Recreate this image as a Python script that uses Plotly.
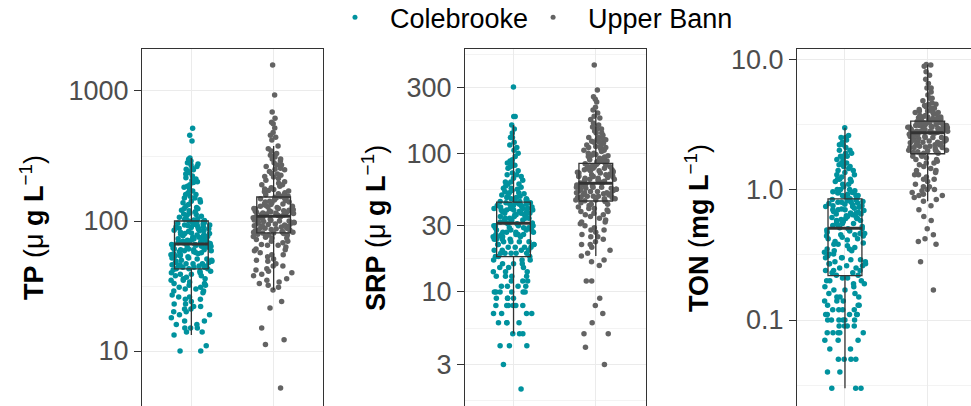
import plotly.graph_objects as go

sites = ["Colebrooke", "Upper Bann"]
site_colors = ["#00929E", "#636363"]

# ---------------- TP (ug/L) ----------------
tp_colebrooke = [
    518, 457, 412, 305, 298, 290, 285, 280, 275, 270, 262, 255, 248, 240, 230, 222, 215, 205, 198, 190,
    182, 175, 170, 165, 160, 155, 150, 146, 142, 138, 134, 130, 127, 124, 121, 118, 115, 113, 111, 109,
    107, 105, 104, 102, 101, 100,
    99, 98, 97, 96, 95, 94, 93, 92, 91, 90, 89, 88, 87, 86, 85, 84, 83, 82, 81, 80,
    79, 78, 77, 77, 76, 75, 74, 73, 73, 72, 71, 71, 70, 70, 69, 69, 68, 68, 67, 67,
    66, 66, 65, 65, 64, 64, 63, 62, 62, 61, 60, 60, 59, 58, 58, 57, 56, 56, 55, 54,
    54, 53, 52, 52, 51, 50, 50, 49, 48, 48, 47, 47, 46, 46, 45, 45, 44, 44, 43, 43,
    42, 41, 41, 40, 39, 39, 38, 37, 36, 36, 35, 34, 33, 33, 32, 31, 30, 30, 29, 28,
    27, 26, 25, 25, 24, 23, 22, 22, 21, 20, 20, 19, 18, 17, 16, 16, 15, 15, 14, 14,
    13.3, 11, 10, 10,
    250, 235, 210, 185, 160, 140, 125, 112, 103, 97, 93, 88, 84, 80, 78, 75, 72, 70, 68, 66,
    64, 61, 59, 57, 55, 53, 51, 49, 47, 45, 43, 40, 38, 35, 32, 29, 26, 23, 21, 19,
    17, 15, 280, 200, 150, 120, 90, 60, 44, 31,
]
tp_upper_bann = [
    1585, 930, 690, 617, 575, 560, 520, 480, 457, 440, 420,
    378, 360, 345, 330, 320, 310, 300, 290, 280, 270, 262, 255, 248, 240, 232, 225, 218, 212, 206, 200,
    195, 190, 185, 180, 176, 172, 168, 165, 162, 159, 156, 154,
    152, 150, 148, 146, 144, 142, 140, 138, 136, 134, 132, 130, 128, 127, 126, 125, 124, 122, 121, 120,
    119, 118, 117, 116, 115, 114, 113, 112, 111, 110,
    108, 107, 106, 105, 104, 103, 102, 101, 100, 99, 98, 97, 96, 95, 94, 93, 92, 91, 90, 89,
    88, 87, 86, 85, 84, 83, 82, 82, 81, 81,
    80, 79, 78, 77, 76, 75, 74, 72, 70, 68, 66, 65, 63, 61, 59, 57, 55, 53, 51, 49,
    47, 45, 43, 41, 40, 38, 36, 35, 33, 31, 29.5, 24, 21.4, 15, 12.2, 11.2, 5.2,
    300, 250, 220, 190, 170, 160, 150, 140, 135, 130, 125, 120, 115, 112, 108, 104, 100, 96, 92, 88,
    85, 82, 78, 74, 70, 65, 60, 55, 50, 45, 42, 39, 34, 32, 270, 230, 175, 145, 118, 98,
]
tp_q1 = [42.8, 81.0]
tp_median = [66.6, 109.0]
tp_q3 = [100.0, 153.0]
tp_lower = [13.3, 29.5]
tp_upper = [305.0, 378.0]

# ---------------- SRP (ug/L) ----------------
srp_colebrooke = [
    300, 184, 184, 160, 150, 140, 130, 120, 115, 110, 100, 95, 90, 88, 85, 82, 80, 78, 75, 72,
    70, 68, 66, 64, 62, 60, 58, 57, 56, 55, 54, 53, 52, 51, 50, 49, 48, 48, 47, 47, 46, 46, 45, 45,
    44, 44, 43, 43, 42, 42, 41, 41, 40, 40, 39, 39, 38, 38, 37, 37, 36, 36, 35, 35,
    34, 34, 33, 33, 32, 32, 32, 31.5, 44, 40, 38, 36, 34, 42, 39, 37,
    31, 31, 30, 30, 29, 29, 28, 28, 27, 27, 26, 26, 25, 25, 24, 24, 23, 23, 22, 22,
    21, 21, 20, 20, 19, 19, 18, 18, 30, 28, 26, 24, 22, 20, 25, 27, 23, 29, 21, 19,
    17, 17, 16, 16, 15, 15, 14, 14, 13, 13, 12, 12, 11, 11, 11, 10, 10, 10, 10, 9,
    9, 9, 8, 8, 8, 8, 7, 7, 7, 6, 6, 6, 5, 5, 5, 4.1, 4.1, 4.1, 3, 2,
    130, 105, 85, 70, 62, 56, 50, 46, 43, 41, 39, 37, 35, 33, 31, 30, 29, 28, 27, 26,
    25, 24, 23, 22, 21, 20, 19, 18, 17, 16, 15, 14, 13, 12, 11, 10, 9, 8, 7, 6,
    60, 52, 45, 40, 34, 26, 19, 13, 10, 8,
]
srp_upper_bann = [
    433, 286, 256, 245, 234, 215,
    205, 195, 185, 175, 165, 155, 150, 145, 140, 135, 130, 128, 125, 122, 120, 118, 115, 112, 110, 108,
    105, 103, 100, 98, 96, 94, 92, 90, 88, 86, 85,
    84, 83, 82, 81, 80, 79, 78, 77, 76, 75, 74, 73, 72, 71, 70, 69, 68, 67, 66, 65,
    64, 63, 62, 61, 80, 75, 70, 65, 72, 68,
    60, 59, 58, 57, 56, 55, 54, 53, 52, 51, 50, 49, 48, 47, 46, 45.5, 58, 55, 52, 49,
    47, 56, 53, 50, 48, 46, 59, 54, 51, 57,
    45, 44, 43, 42, 41, 40, 39, 38, 37, 36, 35, 34, 33, 32, 31, 30, 29, 28, 27, 26,
    25, 24, 23, 22, 21, 20, 19, 18.2, 17, 16.5, 15.5, 12, 12, 9, 8, 7, 6, 5, 5, 4, 3,
    180, 160, 140, 130, 120, 112, 105, 100, 95, 90, 87, 84, 80, 76, 72, 68, 64, 61, 58, 55,
    52, 49, 46, 43, 40, 36, 32, 28, 25, 22, 150, 125, 110, 97, 88, 78, 66, 57, 48, 38,
]
srp_q1 = [18.0, 45.3]
srp_median = [31.3, 60.8]
srp_q3 = [44.4, 84.7]
srp_lower = [5.03, 18.2]
srp_upper = [160.0, 205.0]

# ---------------- TON (mg/L) ----------------
ton_colebrooke = [
    2.97, 2.6, 2.5, 2.4, 2.3, 2.2, 2.1, 2.0, 1.9, 1.8, 1.7, 1.6, 1.55, 1.5, 1.45, 1.4, 1.35, 1.3, 1.25, 1.2,
    1.15, 1.1, 1.05, 1.0, 0.98, 0.96, 0.94, 0.92, 0.9, 0.88, 0.86, 2.0, 1.8, 1.6, 1.4, 1.2, 1.1, 1.0, 0.95, 0.9,
    0.84, 0.82, 0.8, 0.78, 0.76, 0.74, 0.72, 0.7, 0.68, 0.66, 0.64, 0.62, 0.6, 0.58, 0.56, 0.54, 0.52, 0.51, 0.8, 0.75,
    0.7, 0.65, 0.6, 0.55, 0.83, 0.77, 0.71, 0.67, 0.63, 0.57, 0.53, 0.79, 0.73, 0.69, 0.61, 0.59, 0.81, 0.74, 0.66, 0.58,
    0.5, 0.48, 0.46, 0.44, 0.42, 0.4, 0.38, 0.36, 0.34, 0.32, 0.3, 0.29, 0.28, 0.27, 0.26, 0.25, 0.24, 0.23, 0.22, 0.49,
    0.45, 0.41, 0.37, 0.33, 0.31, 0.27, 0.25, 0.23, 0.47, 0.43, 0.39, 0.35, 0.3, 0.26, 0.24, 0.22, 0.45, 0.35, 0.28, 0.32,
    0.21, 0.2, 0.19, 0.18, 0.17, 0.16, 0.15, 0.14, 0.13, 0.12, 0.11, 0.11, 0.1, 0.1, 0.1, 0.09, 0.09, 0.09, 0.08, 0.08,
    0.08, 0.07, 0.07, 0.06, 0.05, 0.05, 0.05, 0.04, 0.03, 0.03, 0.2, 0.18, 0.16, 0.15, 0.14, 0.13, 0.12, 0.12, 0.11, 0.1,
    2.5, 2.2, 1.9, 1.7, 1.5, 1.3, 1.15, 1.0, 0.9, 0.85, 0.8, 0.75, 0.7, 0.65, 0.6, 0.55, 0.5, 0.46, 0.42, 0.38,
    0.34, 0.3, 0.27, 0.24, 0.21, 0.19, 0.17, 0.15, 0.13, 0.12, 0.11, 0.1, 0.09, 0.08, 0.07, 0.06, 0.05, 0.04, 0.03, 0.1,
    1.8, 1.2, 0.95, 0.62, 0.44, 0.29, 0.2, 0.14, 0.11, 0.08,
]
ton_upper_bann = [
    9.07, 9.0, 8.8, 8.0, 7.5, 7.0, 6.5, 6.0, 5.6, 5.3, 5.0, 4.8, 4.6, 4.4, 4.2, 4.1, 4.0, 3.9, 3.8, 3.7,
    3.6, 3.55, 3.5, 3.45, 3.4, 3.35, 4.5, 4.3, 3.9, 3.7, 3.5, 4.0, 3.6,
    3.3, 3.25, 3.2, 3.15, 3.1, 3.05, 3.0, 2.95, 2.9, 2.85, 2.8, 2.75, 3.3, 3.2, 3.1, 3.0, 2.9, 2.8, 3.25, 3.05,
    2.85, 2.78, 3.15, 2.95, 2.74, 3.28, 3.12, 2.98, 2.88, 2.76,
    2.7, 2.65, 2.6, 2.55, 2.5, 2.45, 2.4, 2.35, 2.3, 2.25, 2.2, 2.15, 2.1, 2.05, 2.0, 1.95, 1.9, 2.6, 2.4, 2.2,
    2.0, 2.5, 2.3, 2.1, 1.92, 2.68, 2.45, 2.28, 2.12, 1.98,
    1.85, 1.8, 1.75, 1.7, 1.65, 1.6, 1.55, 1.5, 1.45, 1.4, 1.35, 1.3, 1.25, 1.2, 1.15, 1.1, 1.05, 1.0, 1.0, 0.98,
    0.95, 0.92, 0.9, 0.87, 0.84, 0.814, 0.75, 0.7, 0.62, 0.58, 0.5, 0.45, 0.42, 0.4, 0.38, 0.28, 0.17,
    6.0, 5.0, 4.5, 4.2, 4.0, 3.8, 3.6, 3.5, 3.4, 3.3, 3.2, 3.1, 3.0, 2.9, 2.8, 2.7, 2.6, 2.5, 2.4, 2.3,
    2.2, 2.1, 2.0, 1.9, 1.8, 1.6, 1.4, 1.2, 1.05, 0.9, 3.9, 3.45, 3.05, 2.75, 2.55, 2.35, 2.15, 1.95, 1.7, 1.3,
]
ton_q1 = [0.219, 1.88]
ton_median = [0.505, 2.72]
ton_q3 = [0.849, 3.34]
ton_lower = [0.03, 0.814]
ton_upper = [2.97, 9.07]

# tick labels
tp_ticks = [10, 100, 1000]
tp_ticktext = ["10", "100", "1000"]
srp_ticks = [3, 10, 30, 100, 300]
srp_ticktext = ["3", "10", "30", "100", "300"]
ton_ticks = [0.1, 1, 10]
ton_ticktext = ["0.1", "1.0", "10.0"]

FONT = "Liberation Sans, Arial, sans-serif"
W, H = 971, 406

panels = [
    dict(ax="", pts=[tp_colebrooke, tp_upper_bann], q1=tp_q1, med=tp_median, q3=tp_q3, lo=tp_lower, hi=tp_upper),
    dict(ax="2", pts=[srp_colebrooke, srp_upper_bann], q1=srp_q1, med=srp_median, q3=srp_q3, lo=srp_lower, hi=srp_upper),
    dict(ax="3", pts=[ton_colebrooke, ton_upper_bann], q1=ton_q1, med=ton_median, q3=ton_q3, lo=ton_lower, hi=ton_upper),
]

BOXW = 0.41
PTSW = 0.5
fig = go.Figure()
for p in panels:
    xa, ya = "x" + p["ax"], "y" + p["ax"]
    for site, col, vals in zip(sites, site_colors, p["pts"]):
        fig.add_trace(go.Box(
            x=[site] * len(vals), y=vals, xaxis=xa, yaxis=ya,
            boxpoints="all", jitter=1.0, pointpos=0, width=PTSW,
            fillcolor="rgba(0,0,0,0)", line=dict(color="rgba(0,0,0,0)", width=0),
            marker=dict(color=col, size=5.5, line=dict(width=0)),
            showlegend=False, hoverinfo="y",
        ))
    fig.add_trace(go.Box(
        x=sites, q1=p["q1"], median=p["med"], q3=p["q3"],
        lowerfence=p["lo"], upperfence=p["hi"], xaxis=xa, yaxis=ya,
        orientation="v", width=BOXW, whiskerwidth=0, boxpoints=False,
        fillcolor="rgba(0,0,0,0)", line=dict(color="#333333", width=1.3),
        showlegend=False,
    ))
    # thicker median line
    fig.add_trace(go.Box(
        x=sites, q1=p["med"], median=p["med"], q3=p["med"],
        lowerfence=p["med"], upperfence=p["med"], xaxis=xa, yaxis=ya,
        orientation="v", width=BOXW, whiskerwidth=0, boxpoints=False,
        fillcolor="rgba(0,0,0,0)", line=dict(color="#333333", width=3),
        showlegend=False, hoverinfo="skip",
    ))

# legend entries
for site, col in zip(sites, site_colors):
    fig.add_trace(go.Scatter(
        x=[None], y=[None], mode="markers", name="\u00a0\u00a0" + site,
        marker=dict(color=col, size=5), xaxis="x", yaxis="y",
    ))

def px_x(a, b):
    return [a / W, min(b / W, 1.0)]

ydom = [0, (H - 49) / H]
xdomains = [px_x(142, 323), px_x(465, 646), px_x(797, 971)]
xranges = [[-0.6, 1.6], [-0.59, 1.61], [-0.58, 1.524]]
yranges = [[0.577, 3.323], [0.178, 2.752], [-1.659, 1.077]]
yticks = [(tp_ticks, tp_ticktext), (srp_ticks, srp_ticktext), (ton_ticks, ton_ticktext)]
minor_vals = [
    [10 ** 1.5, 10 ** 2.5],
    [10 ** 0.2155, 10 ** 0.7385, 10 ** 1.2385, 10 ** 1.7385, 10 ** 2.2385, 10 ** 2.7155],
    [10 ** -1.5, 10 ** -0.5, 10 ** 0.5],
]

layout = dict(
    width=W, height=H, margin=dict(l=0, r=0, t=0, b=0, autoexpand=False),
    paper_bgcolor="white", plot_bgcolor="white",
    boxmode="overlay",
    font=dict(family=FONT, size=27, color="#000000"),
    showlegend=True,
    legend=dict(orientation="h", x=0.345, xanchor="left", y=1.017, yanchor="top",
                font=dict(size=27, color="#000000"), itemwidth=30,
                bgcolor="rgba(0,0,0,0)", borderwidth=0),
)
for i in range(3):
    s = "" if i == 0 else str(i + 1)
    layout["xaxis" + s] = dict(
        domain=xdomains[i], anchor="y" + s, type="category",
        categoryorder="array", categoryarray=sites, range=xranges[i],
        side="top", showline=True, linecolor="#333333", linewidth=1, mirror=False,
        showticklabels=False, ticks="", showgrid=True, gridcolor="#EBEBEB", gridwidth=1,
        zeroline=False, fixedrange=True, automargin=False,
    )
    layout["yaxis" + s] = dict(
        domain=ydom, anchor="x" + s, type="log", range=yranges[i],
        tickvals=yticks[i][0], ticktext=yticks[i][1],
        tickfont=dict(size=27, color="#4D4D4D", family=FONT),
        ticks="outside", ticklen=7, tickwidth=1, tickcolor="#333333",
        showline=True, linecolor="#333333", linewidth=1, mirror=(i < 2),
        showgrid=True, gridcolor="#EBEBEB", gridwidth=1.2, zeroline=False,
        minor=dict(tickvals=minor_vals[i], showgrid=True, gridcolor="#F3F3F3", gridwidth=1, ticks=""),
        fixedrange=True, automargin=False,
    )

titles = [
    ("<b>TP</b> (μ <b>g L</b><sup>−1</sup>)", 32),
    ("<b>SRP</b> (μ <b>g L</b><sup>−1</sup>)", 374),
    ("<b>TON</b> (<b>mg L</b><sup>−1</sup>)", 697),
]
layout["annotations"] = [
    dict(text=t, x=xc / W, y=(H - 228) / H, xref="paper", yref="paper",
         textangle=-90, showarrow=False, xanchor="center", yanchor="middle",
         font=dict(size=27, color="#000000", family=FONT))
    for t, xc in titles
]
fig.update_layout(**layout)
fig.write_html("out.html")
